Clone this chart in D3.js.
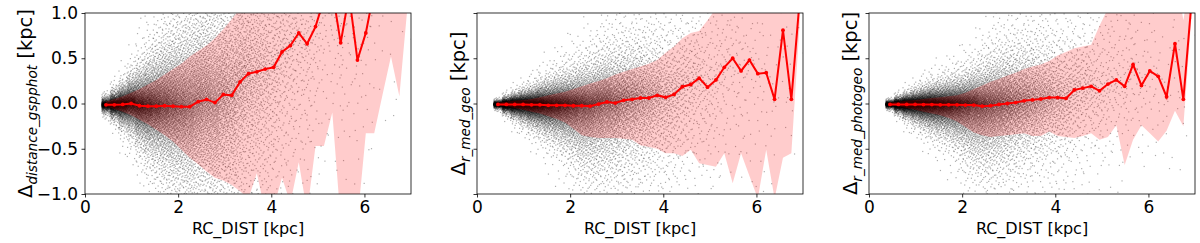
<!DOCTYPE html>
<html>
<head>
<meta charset="utf-8">
<script src="https://cdn.jsdelivr.net/npm/d3@7"></script>
<style>
  html, body { margin: 0; padding: 0; background: #fff; }
  svg { display: block; font-family: "DejaVu Sans", sans-serif; }
  text { white-space: pre; }
</style>
</head>
<body>
<svg id="chart" width="1200" height="243"></svg>
<script>
// running-median bins along RC_DIST (kpc)
const binCenters = [0.45, 0.63, 0.81, 0.99, 1.17, 1.35, 1.53, 1.71, 1.89, 2.07, 2.25, 2.43,
  2.61, 2.79, 2.97, 3.15, 3.33, 3.51, 3.69, 3.87, 4.05, 4.23, 4.41, 4.59, 4.77, 4.95,
  5.13, 5.31, 5.49, 5.67, 5.85, 6.03, 6.21, 6.39, 6.57, 6.75, 6.93];
const binWidth = 0.18;

// stars per bin (same stars in all three panels)
const binCounts = [600, 900, 1000, 1000, 1050, 1050, 1000, 950, 900, 850, 800, 750, 700, 640,
  580, 500, 440, 380, 320, 270, 220, 180, 150, 125, 100, 80, 65, 55, 45, 38, 30, 25, 20,
  16, 13, 10, 8];

const xTicks = [0, 2, 4, 6];
const yTicks = [-1, -0.5, 0, 0.5, 1];
const yTickLabels = ['\u22121.0', '\u22120.5', '0.0', '0.5', '1.0'];

const panelSubscripts = ['distance_gspphot', 'r_med_geo', 'r_med_photogeo'];

// red line: median of the difference per bin
const median1 = [-0.015, -0.015, -0.01, 0.0, -0.025, -0.03, -0.03, -0.025, -0.03, -0.035, -0.035,
  0.02, 0.045, 0.01, 0.10, 0.09, 0.24, 0.33, 0.35, 0.38, 0.40, 0.57, 0.64, 0.78, 0.66, 0.85,
  1.15, 1.25, 0.67, 1.2, 0.48, 0.78, 1.25, 1.4, 1.3, 1.6, 1.5];
const median2 = [-0.01, -0.01, -0.01, -0.01, -0.015, -0.015, -0.02, -0.02, -0.02, -0.025, -0.025,
  -0.029, -0.006, 0.017, 0.005, 0.035, 0.046, 0.061, 0.061, 0.09, 0.068, 0.10, 0.186, 0.21,
  0.28, 0.18, 0.26, 0.40, 0.50, 0.36, 0.48, 0.33, 0.34, 0.046, 0.81, 0.046, 1.15];
const median3 = [-0.01, -0.01, -0.01, -0.01, -0.012, -0.012, -0.015, -0.015, -0.015, -0.017,
  -0.017, -0.03, -0.024, -0.01, 0.0, 0.01, 0.03, 0.04, 0.05, 0.066, 0.066, 0.057, 0.15, 0.17,
  0.19, 0.14, 0.215, 0.26, 0.19, 0.43, 0.20, 0.36, 0.30, 0.075, 0.66, 0.046, 1.15];

// pink band: upper / lower edge per bin
const upper1 = [0.02, 0.05, 0.08, 0.12, 0.16, 0.21, 0.26, 0.32, 0.38, 0.44, 0.52, 0.58, 0.64,
  0.72, 0.82, 0.93, 1.05, 1.15, 1.2, 1.25, 1.3, 1.35, 1.4, 1.45, 1.5, 1.55, 1.6, 1.65, 1.7,
  1.75, 1.8, 1.85, 1.9, 1.95, 2.0, 2.0, 2.0];
const lower1 = [-0.03, -0.06, -0.09, -0.13, -0.18, -0.23, -0.29, -0.35, -0.42, -0.51, -0.60,
  -0.67, -0.75, -0.82, -0.85, -0.90, -0.97, -1.05, -0.77, -1.2, -1.15, -0.82, -1.1, -0.65,
  -1.2, -0.47, -0.47, -0.10, -1.3, -1.5, -1.3, -0.33, -0.33, 0.10, 0.52, 0.08, 1.1];
const upper2 = [0.01, 0.02, 0.03, 0.04, 0.05, 0.07, 0.09, 0.11, 0.13, 0.16, 0.19, 0.22, 0.25,
  0.28, 0.32, 0.35, 0.38, 0.41, 0.44, 0.48, 0.56, 0.63, 0.72, 0.78, 0.80, 0.92, 1.05, 1.15,
  1.2, 1.25, 1.3, 1.35, 1.4, 1.45, 1.5, 1.55, 1.6];
const lower2 = [-0.015, -0.03, -0.05, -0.07, -0.09, -0.11, -0.14, -0.17, -0.21, -0.28, -0.35,
  -0.37, -0.38, -0.38, -0.38, -0.39, -0.40, -0.46, -0.48, -0.50, -0.55, -0.55, -0.58, -0.51,
  -0.66, -0.68, -0.70, -0.55, -0.88, -0.55, -0.80, -1.05, -0.51, -1.05, -0.60, -0.55, 0.9];
const upper3 = [0.01, 0.02, 0.03, 0.04, 0.05, 0.06, 0.07, 0.08, 0.09, 0.12, 0.16, 0.20, 0.24,
  0.27, 0.31, 0.34, 0.38, 0.41, 0.43, 0.47, 0.53, 0.57, 0.61, 0.63, 0.65, 0.86, 1.05, 1.15,
  1.2, 1.25, 1.3, 1.35, 1.4, 1.45, 1.5, 0.92, 1.5];
const lower3 = [-0.015, -0.03, -0.05, -0.07, -0.09, -0.11, -0.13, -0.16, -0.20, -0.26, -0.32,
  -0.35, -0.37, -0.36, -0.35, -0.34, -0.33, -0.36, -0.36, -0.31, -0.36, -0.37, -0.38, -0.36,
  -0.33, -0.40, -0.37, -0.24, -0.68, -0.40, -0.24, -0.33, -0.42, -0.30, -0.08, -0.25, 1.0];

// black cloud: exponential spread of the stars above / below the median per bin,
// read off the picture (dots sit at the quantiles of that spread)
const spreadUp1 = [0.03, 0.05, 0.07, 0.10, 0.14, 0.18, 0.22, 0.27, 0.32, 0.37, 0.42, 0.46,
  0.50, 0.54, 0.58, 0.62, 0.66, 0.70, 0.74, 0.78, 0.80, 0.80, 0.80, 0.80, 0.80, 0.80, 0.80,
  0.80, 0.80, 0.80, 0.80, 0.80, 0.80, 0.80, 0.80, 0.80, 0.80];
const spreadLo1 = [0.03, 0.05, 0.08, 0.11, 0.15, 0.19, 0.23, 0.28, 0.33, 0.38, 0.43, 0.47,
  0.51, 0.55, 0.59, 0.63, 0.67, 0.71, 0.75, 0.78, 0.80, 0.80, 0.80, 0.80, 0.80, 0.80, 0.80,
  0.80, 0.80, 0.80, 0.80, 0.80, 0.80, 0.80, 0.80, 0.80, 0.80];
const spreadUp2 = [0.015, 0.025, 0.035, 0.045, 0.055, 0.07, 0.085, 0.10, 0.115, 0.13, 0.15,
  0.17, 0.19, 0.21, 0.23, 0.25, 0.27, 0.29, 0.31, 0.33, 0.36, 0.39, 0.42, 0.45, 0.48, 0.52,
  0.56, 0.60, 0.60, 0.60, 0.60, 0.60, 0.60, 0.60, 0.60, 0.60, 0.60];
const spreadLo2 = [0.015, 0.03, 0.045, 0.06, 0.075, 0.09, 0.11, 0.13, 0.16, 0.20, 0.25, 0.27,
  0.29, 0.30, 0.31, 0.32, 0.33, 0.36, 0.38, 0.40, 0.43, 0.45, 0.48, 0.50, 0.52, 0.55, 0.58,
  0.60, 0.60, 0.60, 0.60, 0.60, 0.60, 0.60, 0.60, 0.60, 0.60];
const spreadUp3 = [0.015, 0.025, 0.035, 0.045, 0.055, 0.065, 0.075, 0.085, 0.095, 0.11, 0.13,
  0.16, 0.19, 0.21, 0.23, 0.25, 0.27, 0.29, 0.30, 0.31, 0.33, 0.35, 0.36, 0.37, 0.38, 0.45,
  0.52, 0.56, 0.56, 0.56, 0.56, 0.56, 0.56, 0.56, 0.56, 0.56, 0.56];
const spreadLo3 = [0.015, 0.03, 0.045, 0.06, 0.075, 0.09, 0.105, 0.12, 0.15, 0.19, 0.23, 0.25,
  0.26, 0.26, 0.26, 0.26, 0.26, 0.28, 0.29, 0.29, 0.31, 0.32, 0.35, 0.36, 0.36, 0.38, 0.40,
  0.40, 0.40, 0.40, 0.40, 0.40, 0.40, 0.40, 0.40, 0.40, 0.40];

const panels = [
  { sub: panelSubscripts[0], median: median1, upper: upper1, lower: lower1, up: spreadUp1, lo: spreadLo1 },
  { sub: panelSubscripts[1], median: median2, upper: upper2, lower: lower2, up: spreadUp2, lo: spreadLo2 },
  { sub: panelSubscripts[2], median: median3, upper: upper3, lower: lower3, up: spreadUp3, lo: spreadLo3 },
];

const plotTop = 13, plotBottom = 194, plotWidth = 326;
const plotLefts = [85, 477, 869];
const labelX = [32, 465, 857];

const svg = d3.select('#chart');

const y = d3.scaleLinear().domain([-1, 1]).range([plotBottom, plotTop]);

// radical inverse, used to stratify the dots of a bin
function halton(index, base) {
  let f = 1, r = 0;
  while (index > 0) {
    f /= base;
    r += f * (index % base);
    index = Math.floor(index / base);
  }
  return r;
}

function cloudPoints(panel) {
  let pts = [];
  binCenters.forEach((c, i) => {
    for (let k = 0; k < binCounts[i]; k++) {
      let n = k + 1 + i * 1013;
      let v = halton(n, 2);
      let u = halton(n, 3);
      u = Math.min(0.9995, Math.max(0.0005, u));
      let yy = u >= 0.5
        ? panel.median[i] - panel.up[i] * Math.log(2 * (1 - u))
        : panel.median[i] + panel.lo[i] * Math.log(2 * u);
      if (yy < -1.02 || yy > 1.02) continue;
      pts.push({ x: c + (v - 0.5) * binWidth, y: yy });
    }
  });
  return pts;
}

panels.forEach((panel, p) => {
  const left = plotLefts[p];
  const x = d3.scaleLinear().domain([0, 7]).range([left, left + plotWidth]);
  const g = svg.append('g');

  g.append('clipPath').attr('id', 'clip' + p)
    .append('rect')
    .attr('x', left).attr('y', plotTop)
    .attr('width', plotWidth).attr('height', plotBottom - plotTop);

  const inner = g.append('g').attr('clip-path', 'url(#clip' + p + ')');

  // scatter cloud
  inner.append('g')
    .selectAll('rect')
    .data(cloudPoints(panel))
    .join('rect')
    .attr('x', d => x(d.x) - 0.6)
    .attr('y', d => y(d.y) - 0.6)
    .attr('width', 1.2)
    .attr('height', 1.2)
    .attr('fill', '#000')
    .attr('fill-opacity', 0.32);

  // band
  const area = d3.area()
    .x((d, i) => x(binCenters[i]))
    .y0((d, i) => y(panel.lower[i]))
    .y1((d, i) => y(panel.upper[i]));
  inner.append('path')
    .attr('d', area(binCenters))
    .attr('fill', 'red')
    .attr('fill-opacity', 0.2);

  // median line
  const line = d3.line()
    .x((d, i) => x(binCenters[i]))
    .y(d => y(d));
  inner.append('path')
    .attr('d', line(panel.median))
    .attr('fill', 'none')
    .attr('stroke', 'red')
    .attr('stroke-width', 2);
  inner.append('g')
    .selectAll('circle')
    .data(panel.median)
    .join('circle')
    .attr('cx', (d, i) => x(binCenters[i]))
    .attr('cy', d => y(d))
    .attr('r', 1.9)
    .attr('fill', 'red');

  // axes
  const xAxis = d3.axisBottom(x).tickValues(xTicks).tickSize(3.5).tickPadding(3.5)
    .tickFormat(d3.format('d'));
  const gx = g.append('g').attr('transform', `translate(0,${plotBottom})`).call(xAxis);
  const yAxis = d3.axisLeft(y).tickValues(yTicks).tickSize(3.5).tickPadding(3.5)
    .tickFormat((d, i) => (p === 0 ? yTickLabels[i] : ''));
  const gy = g.append('g').attr('transform', `translate(${left},0)`).call(yAxis);
  [gx, gy].forEach(a => {
    a.select('.domain').remove();
    a.selectAll('line').attr('stroke', '#000').attr('stroke-width', 0.8);
    a.selectAll('text').attr('fill', '#000').style('font-size', '17px')
      .style('font-family', '"DejaVu Sans", sans-serif');
  });
  if (p !== 0) gy.selectAll('text').remove();

  g.append('rect')
    .attr('x', left).attr('y', plotTop)
    .attr('width', plotWidth).attr('height', plotBottom - plotTop)
    .attr('fill', 'none').attr('stroke', '#000').attr('stroke-width', 0.8);

  // axis titles
  g.append('text')
    .attr('x', left + plotWidth / 2)
    .attr('y', 234)
    .attr('text-anchor', 'middle')
    .style('font-size', '16px')
    .text('RC_DIST [kpc]');

  const yl = g.append('text')
    .attr('transform', `translate(${labelX[p]},${(plotTop + plotBottom) / 2}) rotate(-90)`)
    .attr('text-anchor', 'middle')
    .style('font-size', '19.5px');
  yl.append('tspan').text('\u0394');
  yl.append('tspan')
    .attr('dy', 4.5)
    .style('font-style', 'italic')
    .style('font-size', '13.6px')
    .text(panel.sub);
  yl.append('tspan')
    .attr('dy', -4.5)
    .text(' [kpc]');
});
</script>
</body>
</html>
